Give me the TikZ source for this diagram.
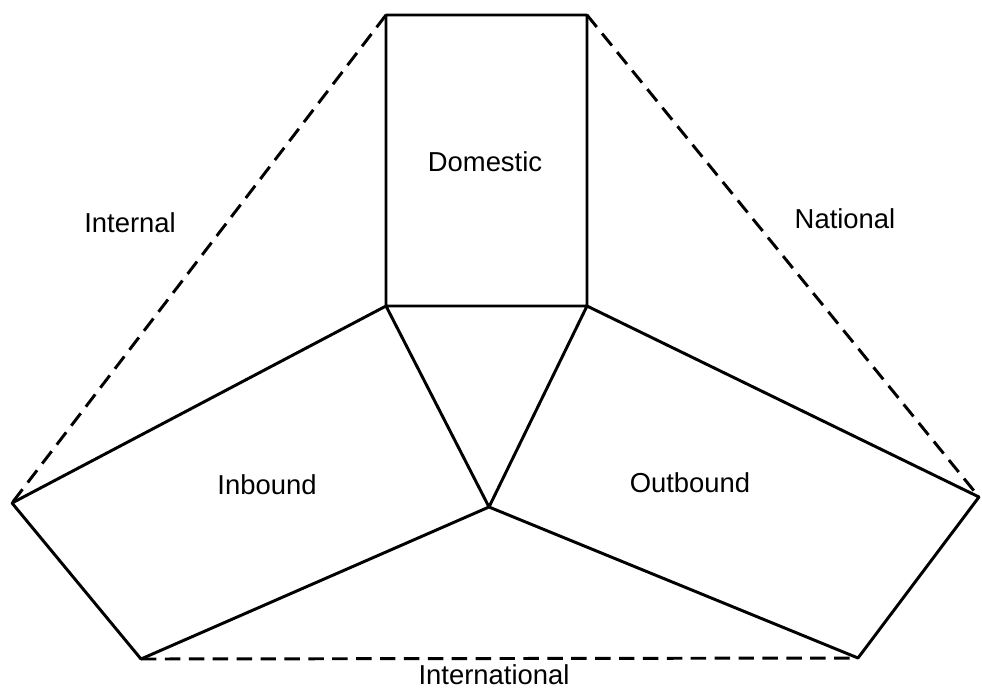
\documentclass[tikz,border=0pt]{standalone}
\usepackage{fontspec}
\setmainfont{Liberation Sans}
\usetikzlibrary{arrows}
\newcommand{\linewd}{2.1pt}

\begin{document}
\begin{tikzpicture}[x=0.25mm,y=-0.25mm,font=\fontsize{19.5}{23}\selectfont]

\useasboundingbox (0,0) rectangle (982,698);

%\newcommand{\linewd}{1.5pt};
\coordinate (dtl) at (386,15);
\coordinate (dtr) at (587,15);
\coordinate (dbl) at (386,306);
\coordinate (dbr) at (587,306);
\coordinate (mid) at (489,507);
\coordinate (lft) at (12,503);
\coordinate (rgt) at (979,497);
\coordinate (bl) at (141,659);
\coordinate (br) at (858,658);

\draw[line width=\linewd, line cap=round, line join=round]
(dtl) to (dtr)
(dtl) to (dbl)
(dtr) to (dbr)
(dbl) to (dbr)
(dbl) to (lft)
(dbr) to (rgt)
(dbl) to (mid)
(dbr) to (mid)
(mid) to (bl)
(mid) to (br)
(lft) to (bl)
(rgt) to (br);

\draw[line width=\linewd, dash pattern=on 11pt off 6pt]
(dtl) to (lft)
(dtr) to (rgt)
(bl) to (br);

\node (dom) at (485,171) [anchor=base] {Domestic};
\node (int) at (130,232) [anchor=base] {Internal};
\node (nat) at (845,228) [anchor=base] {National};
\node (inb) at (267,494) [anchor=base] {Inbound};
\node (outb) at (690,492) [anchor=base] {Outbound};
\node (intl) at (494,684) [anchor=base] {International};

\end{tikzpicture}
\end{document}
